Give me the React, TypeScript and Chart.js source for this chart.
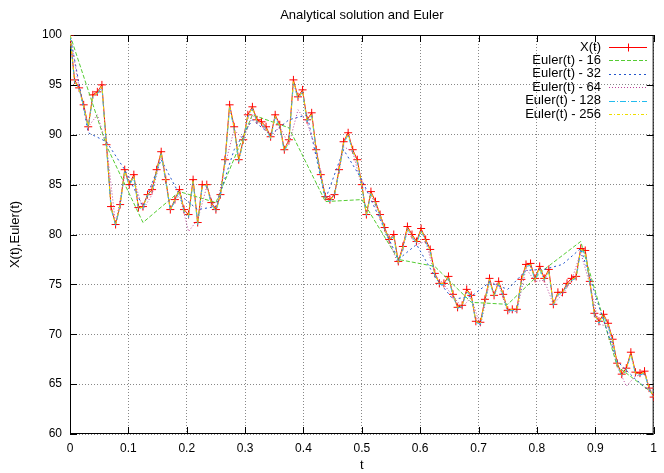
import React, { useEffect, useRef } from "react";
import { Chart, registerables } from "chart.js";

Chart.register(...registerables);

const chartTitle = "Analytical solution and Euler";
const xAxisTitle = "t";
const yAxisTitle = "X(t),Euler(t)";
const tTicks = [0, 0.1, 0.2, 0.3, 0.4, 0.5, 0.6, 0.7, 0.8, 0.9, 1];
const yTicks = [60, 65, 70, 75, 80, 85, 90, 95, 100];
const seriesLabels = ["X(t)", "Euler(t) - 16", "Euler(t) - 32", "Euler(t) - 64", "Euler(t) - 128", "Euler(t) - 256"];

// X(t), read at t = k/128
const analytical = [
  100, 95.5, 94.7, 93.0, 90.8, 94.0, 94.3, 95.0,
  89.0, 82.8, 81.0, 83.0, 86.5, 85.0, 86.0, 82.7,
  82.8, 84.0, 84.5, 86.5, 88.3, 85.5, 82.5, 83.5,
  84.5, 82.5, 82.0, 85.5, 81.2, 85.0, 85.0, 83.2,
  82.5, 84.0, 87.5, 93.0, 90.8, 87.5, 89.5, 92.0,
  92.8, 91.5, 91.3, 90.8, 89.8, 92.0, 91.0, 88.5,
  89.5, 95.5, 93.8, 94.5, 91.5, 92.2, 88.5, 86.0,
  83.8, 83.5, 84.0, 86.5, 89.3, 90.2, 88.5, 87.5,
  85.0, 82.0, 84.3, 83.3, 82.0, 80.7, 79.5, 80.0,
  77.3, 78.8, 80.8, 80.0, 79.3, 80.6, 79.5, 78.5,
  76.1, 75.1, 75.1, 75.8, 74.0, 72.7, 72.9, 74.5,
  73.9, 71.3, 71.2, 73.5, 75.6, 73.9, 75.3, 74.0,
  72.4, 72.5, 72.5, 75.5, 77.0, 77.1, 75.6, 76.8,
  75.6, 76.5, 73.0, 74.2, 74.2, 75.1, 75.6, 75.8,
  78.6, 78.4, 75.3, 72.1, 71.3, 72.0, 71.1, 69.5,
  67.1, 66.0, 66.6, 68.2, 66.2, 66.1, 66.3, 64.6,
  63.7,
];

const euler16 = [100, 88.9, 81.2, 84.3, 83.2, 92.0, 90.7, 83.3, 83.5, 77.5, 76.8, 73.2, 73.0, 76.5, 79.3, 66.8, 64.0];

const euler32 = [
  100, 90.2, 89.3, 86.5, 82.8, 87.5, 84.0, 82.5, 82.8, 88.5, 91.5, 90.0, 91.5, 92.0, 83.5, 88.5,
  85.5, 81.5, 77.5, 79.0, 75.8, 73.5, 73.8, 75.2, 74.5, 76.4, 76.5, 77.0, 78.6, 72.8, 67.3, 65.5,
  64.0,
];

const euler64 = [
  100, 94.7, 90.8, 92.0, 89.0, 81.0, 86.0, 85.5,
  82.5, 84.0, 88.0, 82.5, 84.0, 80.3, 81.5, 84.8,
  82.3, 87.0, 90.5, 89.5, 92.0, 91.0, 89.8, 90.8,
  89.0, 92.5, 91.2, 88.5, 83.8, 84.0, 88.8, 88.3,
  84.8, 84.0, 81.8, 79.3, 77.0, 80.3, 79.0, 79.3,
  76.0, 75.0, 73.8, 72.7, 73.7, 70.8, 75.2, 75.0,
  72.2, 72.3, 76.6, 75.3, 75.4, 73.0, 74.0, 75.4,
  78.2, 75.0, 71.0, 70.8, 66.8, 64.8, 65.8, 66.0,
  63.6,
];

const euler128 = [
  100, 95.3, 94.6, 92.8, 90.7, 93.8, 94.1, 94.8,
  88.8, 82.6, 80.9, 82.9, 86.3, 84.9, 85.8, 82.6,
  82.6, 83.9, 84.3, 86.3, 88.1, 85.4, 82.4, 83.4,
  84.3, 82.3, 81.7, 85.3, 81.0, 84.8, 84.9, 83.0,
  82.3, 83.9, 87.3, 92.7, 90.6, 87.3, 89.3, 91.8,
  92.6, 91.3, 91.1, 90.6, 89.6, 91.8, 90.8, 88.3,
  89.3, 95.2, 93.6, 94.3, 91.3, 92.0, 88.3, 85.8,
  83.6, 83.3, 83.9, 86.3, 89.1, 90.0, 88.3, 87.3,
  84.8, 81.9, 84.1, 83.1, 81.9, 80.5, 79.4, 79.8,
  77.1, 78.6, 80.6, 79.8, 79.1, 80.4, 79.3, 78.3,
  75.9, 75.0, 75.0, 75.6, 73.9, 72.6, 72.8, 74.3,
  73.8, 71.2, 71.0, 73.3, 75.4, 73.8, 75.1, 73.9,
  72.3, 72.4, 72.3, 75.3, 76.8, 76.9, 75.4, 76.6,
  75.4, 76.3, 72.9, 74.0, 74.1, 74.9, 75.4, 75.6,
  78.4, 78.2, 75.1, 71.9, 71.1, 71.8, 70.9, 69.3,
  66.9, 65.8, 66.4, 68.0, 66.0, 65.9, 66.1, 64.5,
  63.6,
];

const euler256 = [
  100, 95.4, 94.6, 92.9, 90.8, 93.9, 94.2, 94.9,
  88.9, 82.7, 81.0, 83.0, 86.4, 85.0, 85.9, 82.7,
  82.7, 84.0, 84.4, 86.4, 88.2, 85.5, 82.5, 83.5,
  84.4, 82.4, 81.9, 85.4, 81.1, 84.9, 85.0, 83.1,
  82.4, 84.0, 87.4, 92.9, 90.7, 87.4, 89.4, 91.9,
  92.7, 91.4, 91.2, 90.7, 89.7, 91.9, 90.9, 88.4,
  89.4, 95.4, 93.7, 94.4, 91.4, 92.1, 88.4, 85.9,
  83.7, 83.4, 84.0, 86.4, 89.2, 90.1, 88.4, 87.4,
  84.9, 82.0, 84.2, 83.2, 82.0, 80.6, 79.5, 79.9,
  77.2, 78.7, 80.7, 79.9, 79.2, 80.5, 79.4, 78.4,
  76.0, 75.1, 75.1, 75.7, 74.0, 72.7, 72.9, 74.4,
  73.9, 71.3, 71.1, 73.4, 75.5, 73.9, 75.2, 74.0,
  72.4, 72.5, 72.4, 75.4, 76.9, 77.0, 75.5, 76.7,
  75.5, 76.4, 73.0, 74.1, 74.2, 75.0, 75.5, 75.7,
  78.5, 78.3, 75.2, 72.0, 71.2, 71.9, 71.0, 69.4,
  67.0, 65.9, 66.5, 68.1, 66.1, 66.0, 66.2, 64.6,
  63.7,
];

const seriesColors = ["#ff0000", "#55cc33", "#2255cc", "#bb4499", "#22bbee", "#eedd00"];
const seriesDash: number[][] = [[], [4, 2], [2, 3], [1, 2], [6, 2, 1, 2], [3, 2, 1, 2]];
const FONT = "'Liberation Sans', Arial, sans-serif";

function toPoints(vals: number[]) {
  return vals.map((v, i) => ({ x: i / (vals.length - 1), y: v }));
}

const decor = {
  id: "decor",
  beforeDraw(chart: any) {
    const ctx = chart.ctx;
    ctx.save();
    ctx.fillStyle = "#fff";
    ctx.fillRect(0, 0, chart.width, chart.height);
    ctx.restore();
  },
  beforeDatasetsDraw(chart: any) {
    const { ctx, chartArea: a, scales } = chart;
    ctx.save();
    ctx.strokeStyle = "#000";
    ctx.lineWidth = 1;
    ctx.setLineDash([]);
    const len = 7;
    ctx.beginPath();
    yTicks.forEach((v) => {
      const y = Math.round(scales.y.getPixelForValue(v)) + 0.5;
      ctx.moveTo(a.left, y); ctx.lineTo(a.left + len, y);
      ctx.moveTo(a.right - len, y); ctx.lineTo(a.right, y);
    });
    tTicks.forEach((v) => {
      const x = Math.round(scales.x.getPixelForValue(v)) + 0.5;
      ctx.moveTo(x, a.bottom); ctx.lineTo(x, a.bottom - len);
      ctx.moveTo(x, a.top); ctx.lineTo(x, a.top + len);
    });
    ctx.stroke();
    ctx.strokeRect(a.left + 0.5, a.top + 0.5, a.right - a.left - 1, a.bottom - a.top - 1);
    ctx.restore();
  },
  afterDraw(chart: any) {
    const { ctx, chartArea: a } = chart;
    ctx.save();
    ctx.fillStyle = "#000";
    ctx.font = `13px ${FONT}`;
    ctx.textAlign = "center";
    ctx.textBaseline = "middle";
    const cx = (a.left + a.right) / 2;
    ctx.fillText(chartTitle, cx, 15);
    ctx.fillText(xAxisTitle, cx, 465);
    ctx.save();
    ctx.translate(15, (a.top + a.bottom) / 2);
    ctx.rotate(-Math.PI / 2);
    ctx.fillText(yAxisTitle, 0, 0);
    ctx.restore();

    // key
    const textRight = 601;
    const x0 = 609;
    const x1 = 647;
    seriesLabels.forEach((lab, i) => {
      const y = 47 + i * 13.4;
      ctx.textAlign = "right";
      ctx.fillStyle = "#000";
      ctx.fillText(lab, textRight, y);
      const yy = Math.round(y) + 0.5;
      ctx.strokeStyle = seriesColors[i];
      ctx.lineWidth = 1;
      ctx.setLineDash(seriesDash[i]);
      ctx.beginPath();
      ctx.moveTo(x0, yy);
      ctx.lineTo(x1, yy);
      ctx.stroke();
      if (i === 0) {
        ctx.setLineDash([]);
        const mx = Math.round((x0 + x1) / 2) + 0.5;
        ctx.beginPath();
        ctx.moveTo(mx, yy - 4); ctx.lineTo(mx, yy + 4);
        ctx.moveTo(mx - 4, yy); ctx.lineTo(mx + 4, yy);
        ctx.stroke();
      }
    });
    ctx.restore();
  },
};

export default function App() {
  const ref = useRef<HTMLCanvasElement | null>(null);
  useEffect(() => {
    if (!ref.current) return;
    const all = [analytical, euler16, euler32, euler64, euler128, euler256];
    const datasets = all.map((vals, i) => ({
      label: seriesLabels[i],
      data: toPoints(vals),
      borderColor: seriesColors[i],
      backgroundColor: seriesColors[i],
      borderWidth: 1,
      borderDash: seriesDash[i],
      pointStyle: "cross",
      pointRadius: i === 0 ? 4 : 0,
      pointHoverRadius: 0,
      pointBorderWidth: 1,
      fill: false,
      tension: 0,
    }));
    // reverse so that X(t) is drawn first (bottom) and Euler 256 last (top)
    const ordered = datasets.slice().reverse();
    const chart = new Chart(ref.current, {
      type: "line",
      data: { datasets: ordered as any },
      plugins: [decor],
      options: {
        animation: false,
        responsive: false,
        maintainAspectRatio: false,
        devicePixelRatio: 1,
        layout: { padding: { top: 35, right: 1, left: 0, bottom: 0 } },
        plugins: { legend: { display: false }, title: { display: false }, tooltip: { enabled: false } },
        scales: {
          x: {
            type: "linear",
            min: 0,
            max: 1,
            afterBuildTicks: (s: any) => { s.ticks = tTicks.map((v) => ({ value: v })); },
            afterFit: (s: any) => { s.height = 39; },
            ticks: {
              padding: 7,
              color: "#000",
              font: { family: FONT, size: 12 },
              maxRotation: 0,
              callback: (v: any) => String(Math.round(Number(v) * 10) / 10),
            },
            grid: { color: "#888", lineWidth: 1, drawTicks: false },
            border: { display: false, dash: [1, 2] },
          },
          y: {
            type: "linear",
            min: 60,
            max: 100,
            afterBuildTicks: (s: any) => { s.ticks = yTicks.map((v) => ({ value: v })); },
            afterFit: (s: any) => { s.width = 70; },
            ticks: {
              padding: 8,
              color: "#000",
              font: { family: FONT, size: 12 },
              callback: (v: any) => String(v),
            },
            grid: { color: "#888", lineWidth: 1, drawTicks: false },
            border: { display: false, dash: [1, 2] },
          },
        },
      },
    });
    return () => chart.destroy();
  }, []);
  return (
    <div style={{ position: "absolute", left: 0, top: 0, width: 664, height: 473, background: "#fff" }}>
      <canvas ref={ref} width={664} height={473} style={{ display: "block" }} />
    </div>
  );
}
